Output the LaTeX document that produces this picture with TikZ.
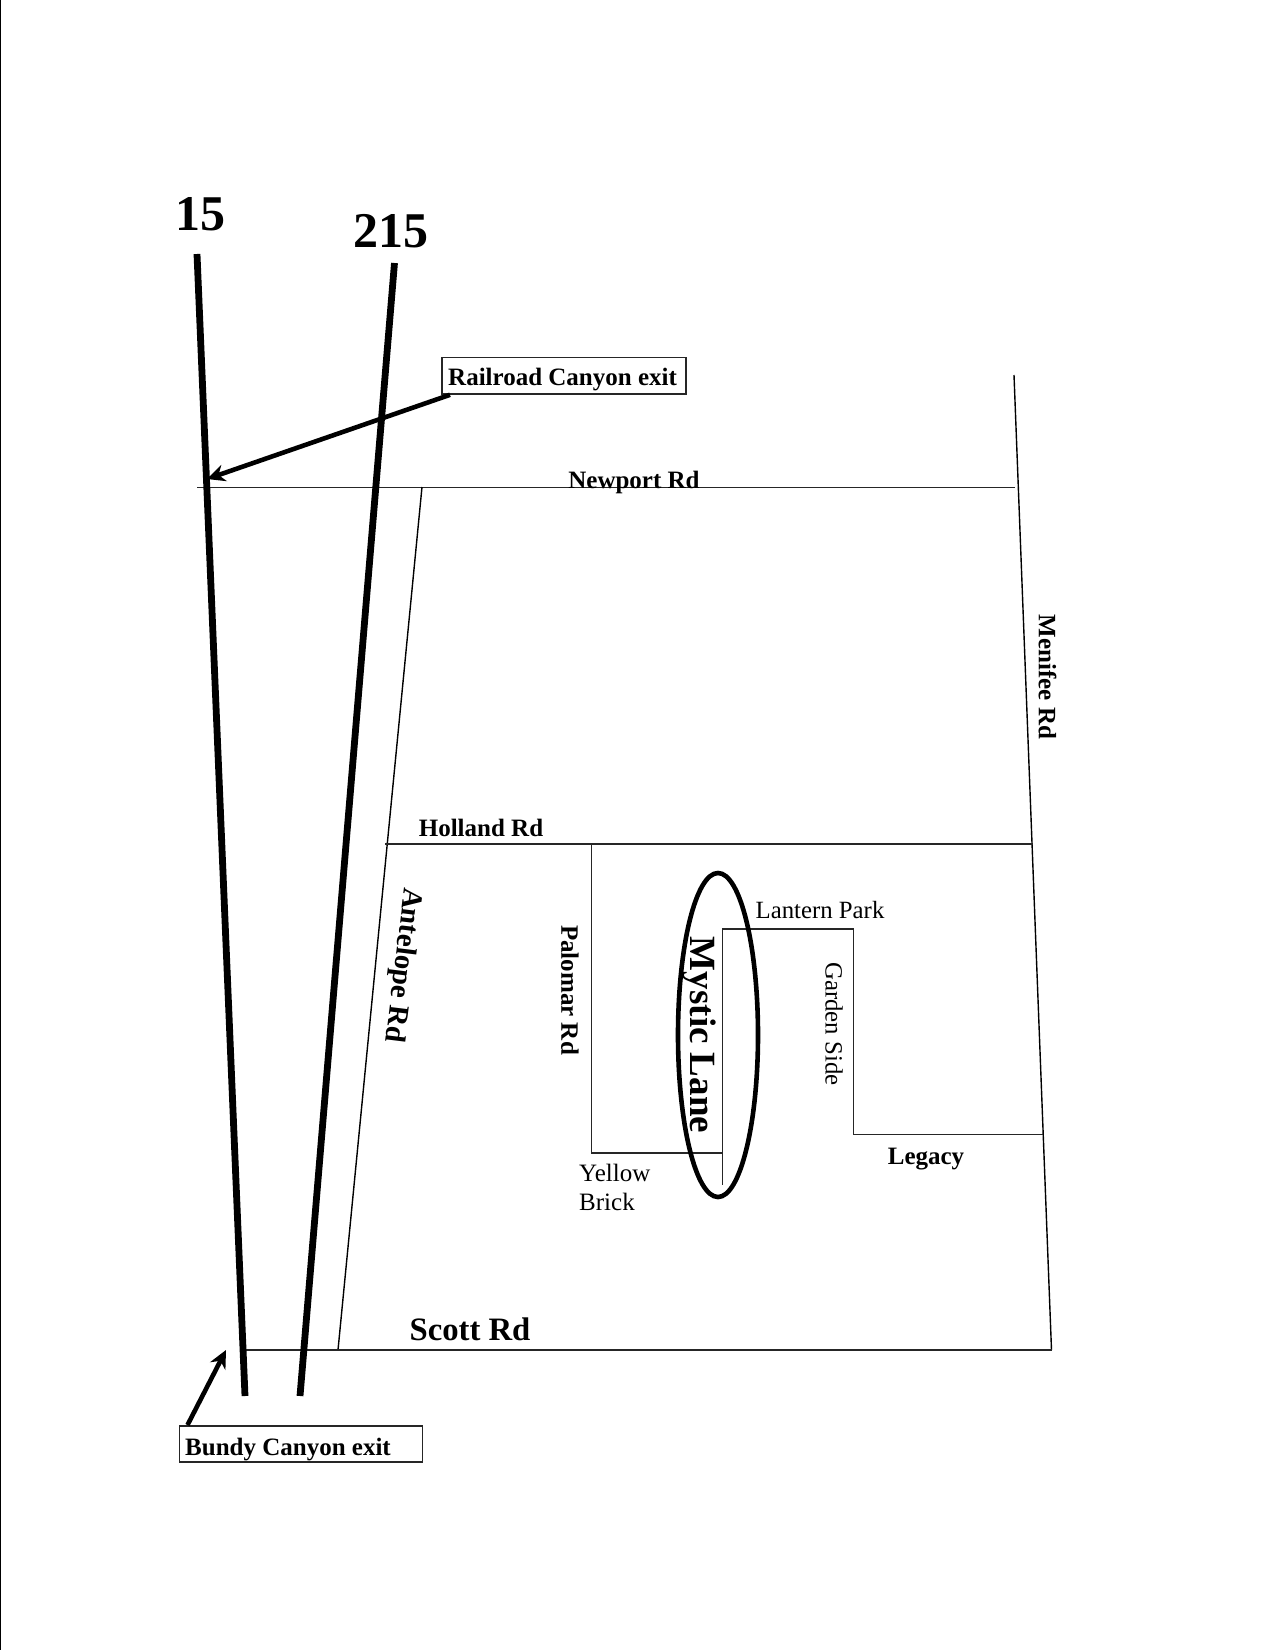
\documentclass[tikz,border=0pt]{standalone}
\usepackage{fontspec}
\setmainfont{Liberation Serif}
\usetikzlibrary{arrows.meta}
\begin{document}
\begin{tikzpicture}[x=1pt,y=-1pt,
  road/.style={draw=black!85,line width=1.8pt,line cap=rect},
  thinroad/.style={draw=black,line width=1.4pt},
  freeway/.style={draw=black,line width=6.8pt},
  pointer/.style={draw=black,line width=4.6pt,-{Stealth[length=18pt,width=17pt]}},
  exitbox/.style={draw=black!85,line width=1.8pt,fill=white,inner sep=0pt,anchor=north west},
  lbl/.style={inner sep=0pt,font=\bfseries\fontsize{25}{28}\selectfont},
  plain/.style={inner sep=0pt,font=\fontsize{24.8}{28}\selectfont}]
\useasboundingbox (0,0) rectangle (1275,1650);
\fill[white] (0,0) rectangle (1275,1650);
\draw[line width=1.5pt] (0.7,0) -- (0.7,1650);
% coordinates
\coordinate (nw) at (197.5,487.5); \coordinate (ne) at (1014.5,487.5);
\coordinate (mt) at (1014,375); \coordinate (mb) at (1051.5,1350);
\coordinate (at) at (422,487); \coordinate (ab) at (338,1350);
\coordinate (hw) at (385.5,844); \coordinate (he) at (1032,844);
\coordinate (sw) at (244,1350);
\coordinate (pt) at (591.5,844); \coordinate (pb) at (591.5,1153);
\coordinate (yb) at (722.5,1153);
\coordinate (lt) at (722.5,929); \coordinate (lb) at (722.5,1184);
\coordinate (gt) at (853.5,929); \coordinate (gb) at (853.5,1134.5);
\coordinate (le) at (1042.5,1134.5);
\coordinate (ft) at (197,254); \coordinate (fb) at (245,1396);
\coordinate (tt) at (394.5,263); \coordinate (tb) at (300,1396);
\coordinate (rrtip) at (207,479); \coordinate (butip) at (226,1350);
% roads
\draw[road] (nw) -- (ne);
\draw[thinroad] (mt) -- (mb);
\draw[thinroad] (at) -- (ab);
\draw[road] (hw) -- (he);
\draw[road] (sw) -- (mb);
\draw[road] (pt) -- (pb) -- (yb);
\draw[road] (lb) -- (lt) -- (gt) -- (gb) -- (le);
% freeways
\draw[freeway] (ft) -- (fb);
\draw[freeway] (tt) -- (tb);
% labels
\node[inner sep=0pt,font=\bfseries\fontsize{50}{52}\selectfont] (n15) at (200.5,214) {15};
\node[inner sep=0pt,font=\bfseries\fontsize{50}{52}\selectfont] (n215) at (390.5,231) {215};
\node[lbl] (newport) at (634,482.5) {Newport Rd};
\node[lbl] (holland) at (481,828) {Holland Rd};
\node[lbl,rotate=-90] (menifee) at (1047.5,677) {Menifee Rd};
\node[lbl,font=\bfseries\fontsize{29}{32}\selectfont,rotate=-97] (antelope) at (402,965) {Antelope Rd};
\node[lbl,rotate=-90] (palomar) at (570,990) {Palomar Rd};
\node[lbl] (legacy) at (926,1159) {Legacy};
\node[inner sep=0pt,font=\bfseries\fontsize{32.7}{36}\selectfont] (scott) at (470,1329) {Scott Rd};
\node[plain] (lantern) at (820,910) {Lantern Park};
\node[plain,rotate=-90] (garden) at (834,1024) {Garden Side};
\node[plain,anchor=north west,align=left,font=\fontsize{25}{28.5}\selectfont] (yellow) at (579,1164) {Yellow\\Brick};
\node[inner sep=0pt,rotate=-90,font=\bfseries\fontsize{37}{40}\selectfont] (mystic) at (699.5,1035) {Mystic Lane};
\draw[line width=4.6pt] (718,1035) ellipse [x radius=40,y radius=162];
% boxes
\node[exitbox,minimum width=244pt,minimum height=36.5pt] (rr) at (441,356.5) {};
\node[exitbox,minimum width=243pt,minimum height=36pt] (bu) at (178.5,1425) {};
\node[lbl,anchor=west,font=\bfseries\fontsize{25}{26}\selectfont] (rrtext) at (448,380) {Railroad Canyon exit};
\node[lbl,anchor=west,font=\bfseries\fontsize{25}{26}\selectfont] (butext) at (185,1450) {Bundy Canyon exit};
\coordinate (rrs) at ([xshift=9pt]rr.south west);
\coordinate (bun) at ([xshift=9pt]bu.north west);
\draw[pointer] (rrs) -- (rrtip);
\draw[pointer] (bun) -- (butip);
\end{tikzpicture}
\end{document}
